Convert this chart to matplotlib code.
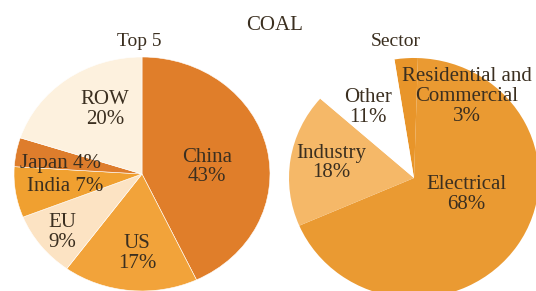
import matplotlib
matplotlib.use("Agg")
import matplotlib.pyplot as plt

plt.rcParams["font.family"] = ["Liberation Serif", "DejaVu Serif"]

# left pie: top 5 countries
countries = ["China", "US", "EU", "India", "Japan", "ROW"]
country_pct = [43, 17, 9, 7, 4, 20]
country_colors = ["#E07E2A", "#F2A33A", "#FCE3C3", "#F0A030", "#DE7D2C", "#FDF1DE"]

# right pie: sector
sectors = ["Residential and\nCommercial", "Electrical", "Industry", "Other"]
sector_pct = [3, 68, 18, 11]
sector_colors = ["#E8952A", "#EA9A32", "#F5B868", "#FFFFFF"]

txt_color = "#3b2f20"

fig = plt.figure(figsize=(5.36, 2.91), dpi=100)
W, H = 536, 291


def box(x0, y0, w, h):
    # pixel box (from top-left) -> figure fraction
    return [x0 / W, (H - y0 - h) / H, w / W, h / H]


# ---- left pie
ax1 = fig.add_axes(box(14, 57, 256, 234))
ax1.pie(country_pct, colors=country_colors, startangle=90, counterclock=False,
        wedgeprops=dict(edgecolor="white", linewidth=0.4))
ax1.set_aspect("auto")
ax1.set_xlim(-1, 1)
ax1.set_ylim(-1, 1)
ax1.axis("off")

left_pos = [(0.51, 0.06), (-0.04, -0.68), (-0.62, -0.50),
            (-0.60, -0.11), (-0.64, 0.09), (-0.29, 0.55)]
for name, p, (x, y) in zip(countries, country_pct, left_pos):
    if name in ("India", "Japan"):
        label = f"{name} {p}%"
    else:
        label = f"{name}\n{p}%"
    ax1.text(x, y, label, ha="center", va="center", fontsize=15,
             color=txt_color, linespacing=1.05)

# ---- right pie
ax2 = fig.add_axes(box(289, 58, 250, 240))
ax2.pie(sector_pct, colors=sector_colors, startangle=99, counterclock=False,
        wedgeprops=dict(linewidth=0))
ax2.set_aspect("auto")
ax2.set_xlim(-1, 1)
ax2.set_ylim(-1, 1)
ax2.axis("off")

right_pos = [(0.42, 0.68), (0.42, -0.14), (-0.66, 0.125), (-0.37, 0.59)]
for name, p, (x, y) in zip(sectors, sector_pct, right_pos):
    ax2.text(x, y, f"{name}\n{p}%", ha="center", va="center", fontsize=15,
             color=txt_color, linespacing=1.05, clip_on=False)

# titles
fig.text(275 / W, 1 - 25 / H, "COAL", ha="center", va="center",
         fontsize=15, color=txt_color)
fig.text(139 / W, 1 - 42 / H, "Top 5", ha="center", va="center",
         fontsize=14, color=txt_color)
fig.text(396 / W, 1 - 42 / H, "Sector", ha="center", va="center",
         fontsize=14, color=txt_color)

fig.savefig("out.png", dpi=100, facecolor="white")
